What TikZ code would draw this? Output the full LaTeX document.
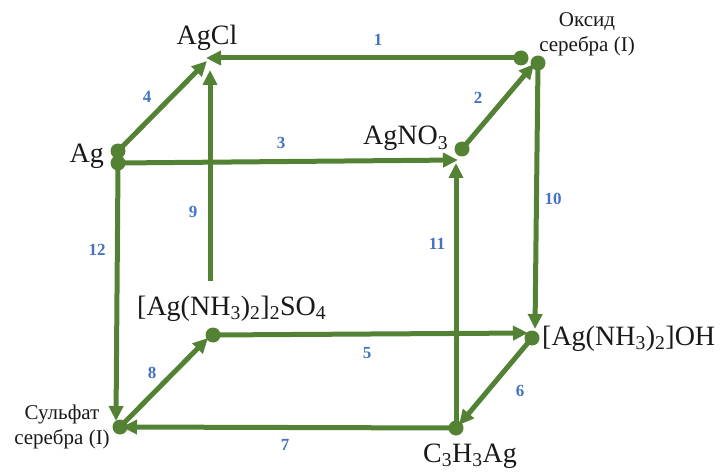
\documentclass[tikz,border=0pt]{standalone}
\usepackage{fontspec}
\setmainfont{Liberation Serif}
\usetikzlibrary{arrows.meta}
\definecolor{arrgreen}{RGB}{84,130,53}
\definecolor{numblue}{RGB}{68,114,196}
\begin{document}
\begin{tikzpicture}[x=1pt,y=-1pt,
  conn/.style={draw=arrgreen,line width=5pt,-{Triangle[length=15pt,width=14pt]}},
  dot/.style={circle,fill=arrgreen,inner sep=0pt,minimum size=15pt},
  chem/.style={inner sep=0pt,font=\fontsize{28}{32}\selectfont,text=black!90},
  rus/.style={inner sep=0pt,align=center,font=\fontsize{21}{25}\selectfont,text=black!90},
  num/.style={inner sep=0pt,font=\fontsize{17}{20}\selectfont\bfseries,text=numblue}]
\useasboundingbox (0,0) rectangle (722,473);
% labels
\node[chem,anchor=base] (agcl) at (207,45) {AgCl};
\node[chem,anchor=base east] (ag) at (104,163) {Ag};
\node[chem,anchor=base west] (agno3) at (363,145) {AgNO\textsubscript{3}};
\node[chem,anchor=base west] (sulfam) at (137,315) {[Ag(NH\textsubscript{3})\textsubscript{2}]\textsubscript{2}SO\textsubscript{4}};
\node[chem,anchor=base west] (oh) at (542,345) {[Ag(NH\textsubscript{3})\textsubscript{2}]OH};
\node[chem,anchor=base west] (c3) at (423,462) {C\textsubscript{3}H\textsubscript{3}Ag};
\node[rus,anchor=base] (ox) at (587,52) {Оксид\\серебра (I)};
\node[rus,anchor=base] (sulf) at (62,444) {Сульфат\\серебра (I)};
% dots
\node[dot] (oxA) at (521,58) {};
\node[dot] (oxB) at (538,63) {};
\node[dot] (agno3d) at (462,149) {};
\node[dot] (agA) at (118,151) {};
\node[dot] (agB) at (118,163) {};
\node[dot] (sulfamd) at (213,335) {};
\node[dot] (ohd) at (532,338) {};
\node[dot] (c3d) at (456,428) {};
\node[dot] (sulfd) at (120,427) {};
% arrow tips and free ends
\coordinate (t1) at (206,58);
\coordinate (t4) at (207,61);
\coordinate (t9) at (210,70);
\coordinate (s9) at (210,281);
\coordinate (t3) at (458,160);
\coordinate (t2) at (534,64);
\coordinate (t10) at (535,329);
\coordinate (t5) at (528,333);
\coordinate (t6) at (459,425);
\coordinate (t11) at (456,163);
\coordinate (t7) at (122,427);
\coordinate (t12) at (116,421);
\coordinate (t8) at (208,338);
% connectors
\draw[conn] (oxA.center) -- (t1);
\draw[conn] (agA.center) -- (t4);
\draw[conn] (s9) -- (t9);
\draw[conn] (agB.center) -- (t3);
\draw[conn] (agno3d.center) -- (t2);
\draw[conn] (oxB.center) -- (t10);
\draw[conn] (sulfamd.center) -- (t5);
\draw[conn] (ohd.center) -- (t6);
\draw[conn] (c3d.center) -- (t11);
\draw[conn] (c3d.center) -- (t7);
\draw[conn] ([yshift=-3pt]agB.center) -- (t12);
\draw[conn] (sulfd.center) -- (t8);
% numbers
\node[num] (n1) at (378,40) {1};
\node[num] (n2) at (478,98) {2};
\node[num] (n3) at (281,143) {3};
\node[num] (n4) at (147,97) {4};
\node[num] (n5) at (367,353) {5};
\node[num] (n6) at (520,391) {6};
\node[num] (n7) at (285,445) {7};
\node[num] (n8) at (152,373) {8};
\node[num] (n9) at (193,212) {9};
\node[num] (n10) at (553,199) {10};
\node[num] (n11) at (437,244) {11};
\node[num] (n12) at (97,250) {12};
\end{tikzpicture}
\end{document}
